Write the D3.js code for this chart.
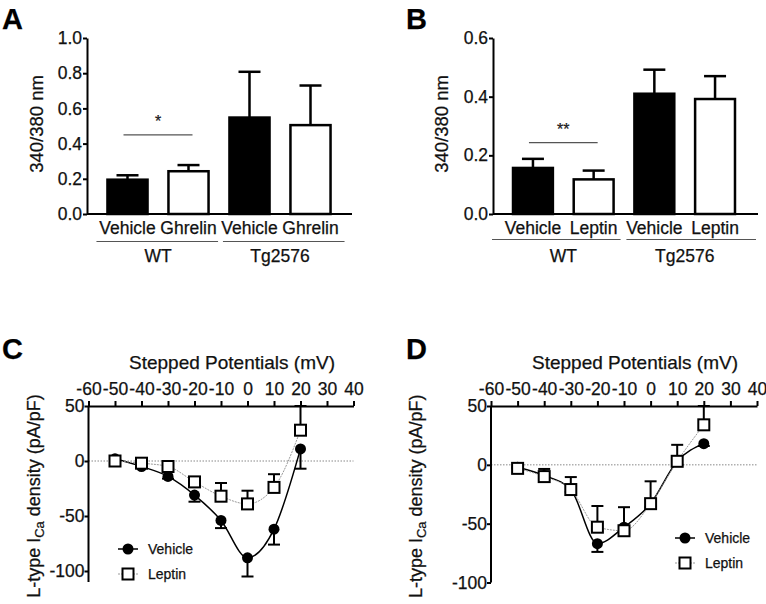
<!DOCTYPE html>
<html><head><meta charset="utf-8">
<script src="https://cdn.jsdelivr.net/npm/d3@7"></script>
<style>
body{margin:0;background:#fff;}
svg{display:block;font-family:"Liberation Sans",Arial,Helvetica,sans-serif;}
svg text{stroke:#111;stroke-width:0.25px;}
</style></head>
<body><svg id="c" width="766" height="604"></svg>
<script>
// ---------- data ----------
const barCatsA = ["Vehicle", "Ghrelin", "Vehicle ", "Ghrelin "];
const barLabelsA = ["Vehicle", "Ghrelin", "Vehicle", "Ghrelin"];
const barMeansA = [0.195, 0.243, 0.548, 0.505];
const barErrA = [0.025, 0.035, 0.26, 0.225];
const barFillA = ["black", "white", "black", "white"];
const ticksA = [0, 0.2, 0.4, 0.6, 0.8, 1.0];

const barCatsB = ["Vehicle", "Leptin", "Vehicle ", "Leptin "];
const barLabelsB = ["Vehicle", "Leptin", "Vehicle", "Leptin"];
const barMeansB = [0.157, 0.118, 0.41, 0.392];
const barErrB = [0.031, 0.03, 0.082, 0.078];
const barFillB = ["black", "white", "black", "white"];
const ticksB = [0, 0.2, 0.4, 0.6];

const groups = ["WT", "Tg2576"];
const sigA = {level: 0.45, label: "*"};
const sigB = {level: 0.243, label: "**"};

const potentials = [-50, -40, -30, -20, -10, 0, 10, 20];
const xTicks = [-60, -50, -40, -30, -20, -10, 0, 10, 20, 30, 40];

const vehC = [2, -5, -14, -31, -54, -88, -62, 11];
const vehCerr = [1, 1, 2, 6, 7, 17, 14, 18];
const lepC = [0, -2, -5, -19, -32, -39, -24, 28];
const lepCerr = [1, 1, 2, 3, 12, 12, 12, 22];
const yTicksC = [-100, -50, 0, 50];

const vehD = [-2, -9, -21, -67, -53, -33, 3, 18];
const vehDerr = [1, 1, 2, 7, 3, 3, 3, 2];
const lepD = [-3, -10, -21, -53, -56, -33, 3, 34];
const lepDerr = [1, 6.5, 10.6, 18, 20, 19, 14, 16];
const yTicksD = [-100, -50, 0, 50];

// ---------- drawing ----------
const svg = d3.select("#c");
const FS = 17.5;
const TXT = "#111";
const hyphenFmt = d => String(d);

function letter(t, x, y){
  svg.append("text").attr("x", x).attr("y", y).attr("font-size", 29)
    .attr("font-weight", "bold").text(t);
}

function styleAxis(g){
  g.attr("font-family", null).attr("font-size", null);
  g.selectAll("path,line").attr("stroke", "#000").attr("stroke-width", 2);
  g.selectAll("text").attr("font-size", FS).attr("fill", TXT);
}

function barPanel(o){
  const y = d3.scaleLinear().domain([0, o.ymax]).range([214, 38]);
  const x = d3.scaleBand().domain(o.cats).range(o.bandRange)
    .paddingInner(0.31).paddingOuter(0.155);
  const bw = x.bandwidth();
  svg.append("line").attr("x1", o.axisX0).attr("x2", o.axisX1)
    .attr("y1", y(0)).attr("y2", y(0)).attr("stroke", "#000").attr("stroke-width", 2);
  o.cats.forEach((c, i) => {
    const cx = x(c) + bw / 2;
    svg.append("line").attr("x1", cx).attr("x2", cx)
      .attr("y1", y(o.means[i])).attr("y2", y(o.means[i] + o.err[i]))
      .attr("stroke", "#000").attr("stroke-width", 2.5);
    svg.append("line").attr("x1", cx - 11).attr("x2", cx + 11)
      .attr("y1", y(o.means[i] + o.err[i])).attr("y2", y(o.means[i] + o.err[i]))
      .attr("stroke", "#000").attr("stroke-width", 2.5);
  });
  svg.selectAll(null).data(o.cats).enter().append("rect")
    .attr("x", c => x(c) + 1).attr("width", bw - 2)
    .attr("y", (c, i) => y(o.means[i])).attr("height", (c, i) => y(0) - y(o.means[i]))
    .attr("fill", (c, i) => o.fill[i]).attr("stroke", "#000").attr("stroke-width", 2.5);
  const ga = svg.append("g").attr("transform", `translate(${o.axisX0},0)`)
    .call(d3.axisLeft(y).tickValues(o.ticks).tickFormat(d3.format(".1f"))
      .tickSize(4).tickSizeOuter(0).tickPadding(1));
  styleAxis(ga);
  o.cats.forEach((c, i) => {
    svg.append("text").attr("x", x(c) + bw / 2).attr("y", 234)
      .attr("text-anchor", "middle").attr("font-size", FS).attr("fill", TXT).text(o.labels[i]);
  });
  groups.forEach((gname, gi) => {
    const c0 = o.cats[gi * 2], c1 = o.cats[gi * 2 + 1];
    const x0 = x(c0) + o.gpad[gi][0], x1 = x(c1) + bw + o.gpad[gi][1];
    svg.append("line").attr("x1", x0).attr("x2", x1).attr("y1", o.gy).attr("y2", o.gy)
      .attr("stroke", "#555").attr("stroke-width", 1.2);
    svg.append("text").attr("x", (x(c0) + x(c1) + bw) / 2).attr("y", 262)
      .attr("text-anchor", "middle").attr("font-size", FS).attr("fill", TXT).text(gname);
  });
  const sx0 = x(o.cats[0]) + bw / 2 - 4, sx1 = x(o.cats[1]) + bw / 2 + 4;
  svg.append("line").attr("x1", sx0).attr("x2", sx1)
    .attr("y1", y(o.sig.level)).attr("y2", y(o.sig.level))
    .attr("stroke", "#555").attr("stroke-width", 1.2);
  svg.append("text").attr("x", (sx0 + sx1) / 2).attr("y", y(o.sig.level) - 8)
    .attr("text-anchor", "middle").attr("font-size", 16).attr("fill", "#222").text(o.sig.label);
  svg.append("text").attr("transform", `translate(${o.titleX},124) rotate(-90)`)
    .attr("text-anchor", "middle").attr("font-size", 18.5).attr("fill", TXT).text("340/380 nm");
}

function linePanel(o){
  const x = d3.scaleLinear().domain([-60, 40]).range([o.x0, o.x1]);
  const y = d3.scaleLinear().domain(o.ydom).range([o.yBottom, 406]);
  svg.append("line").attr("x1", o.x0).attr("x2", o.x1).attr("y1", y(0)).attr("y2", y(0))
    .attr("stroke", "#888").attr("stroke-width", 1).attr("stroke-dasharray", "1.5,1.5");
  const gy = svg.append("g").attr("transform", `translate(${o.x0},0)`)
    .call(d3.axisLeft(y).tickValues(o.yTicks).tickFormat(hyphenFmt).tickSize(4).tickSizeOuter(0).tickPadding(0));
  styleAxis(gy);
  const gx = svg.append("g").attr("transform", `translate(0,${y(50)})`)
    .call(d3.axisTop(x).tickValues(xTicks).tickFormat(hyphenFmt).tickSize(5).tickSizeOuter(0).tickPadding(6));
  styleAxis(gx);
  gy.select(".domain").attr("d", `M0,${o.yBottom}V${y(50)}`);

  const line = d3.line().x((d, i) => x(potentials[i])).y(d => y(d)).curve(d3.curveMonotoneX);
  svg.append("path").attr("d", line(o.veh)).attr("fill", "none")
    .attr("stroke", "#000").attr("stroke-width", 1.5);
  svg.append("path").attr("d", line(o.lep)).attr("fill", "none")
    .attr("stroke", "#999").attr("stroke-width", 1).attr("stroke-dasharray", "2,1");
  function err(vals, errs, dir){
    vals.forEach((v, i) => {
      const cx = x(potentials[i]);
      const e = v + dir * errs[i];
      svg.append("line").attr("x1", cx).attr("x2", cx).attr("y1", y(v)).attr("y2", y(e))
        .attr("stroke", "#000").attr("stroke-width", 2);
      svg.append("line").attr("x1", cx - 6).attr("x2", cx + 6).attr("y1", y(e)).attr("y2", y(e))
        .attr("stroke", "#000").attr("stroke-width", 2);
    });
  }
  err(o.veh, o.vehErr, -1);
  err(o.lep, o.lepErr, 1);
  svg.selectAll(null).data(o.veh).enter().append("circle")
    .attr("cx", (d, i) => x(potentials[i])).attr("cy", d => y(d)).attr("r", 5.5).attr("fill", "#000");
  svg.selectAll(null).data(o.lep).enter().append("rect")
    .attr("x", (d, i) => x(potentials[i]) - 5.5).attr("y", d => y(d) - 5.5)
    .attr("width", 11).attr("height", 11).attr("fill", "#fff").attr("stroke", "#000").attr("stroke-width", 2);
  svg.append("text").attr("x", (o.x0 + o.x1) / 2 + 11).attr("y", 369).attr("text-anchor", "middle")
    .attr("font-size", 19).attr("fill", TXT).text("Stepped Potentials (mV)");
  const yt = svg.append("text").attr("transform", `translate(${o.titleX},${(o.yBottom + 406) / 2 + 2}) rotate(-90)`)
    .attr("text-anchor", "middle").attr("font-size", 18).attr("fill", TXT);
  yt.append("tspan").text("L-type I");
  yt.append("tspan").attr("font-size", 13).attr("dy", 4).text("Ca");
  yt.append("tspan").attr("dy", -4).text(" density (pA/pF)");
  const L = o.legend;
  svg.append("line").attr("x1", L.x - 10).attr("x2", L.x + 10).attr("y1", L.y).attr("y2", L.y)
    .attr("stroke", "#000").attr("stroke-width", 1.5);
  svg.append("circle").attr("cx", L.x).attr("cy", L.y).attr("r", 5.5).attr("fill", "#000");
  svg.append("line").attr("x1", L.x - 10).attr("x2", L.x + 10).attr("y1", L.y + 25).attr("y2", L.y + 25)
    .attr("stroke", "#999").attr("stroke-width", 1).attr("stroke-dasharray", "2,1");
  svg.append("rect").attr("x", L.x - 5.5).attr("y", L.y + 25 - 5.5).attr("width", 11).attr("height", 11)
    .attr("fill", "#fff").attr("stroke", "#000").attr("stroke-width", 2);
  svg.append("text").attr("x", L.x + 20).attr("y", L.y + 5).attr("font-size", 14).attr("fill", TXT).text("Vehicle");
  svg.append("text").attr("x", L.x + 20).attr("y", L.y + 30).attr("font-size", 14).attr("fill", TXT).text("Leptin");
}

letter("A", 2, 29);
letter("B", 406, 29);
letter("C", 2, 359);
letter("D", 406, 359);

barPanel({cats: barCatsA, labels: barLabelsA, means: barMeansA, err: barErrA, fill: barFillA,
  ticks: ticksA, ymax: 1.0, bandRange: [97, 341], axisX0: 87, axisX1: 352, gy: 241.5,
  gpad: [[-10, 8.5], [-5.5, 13]], sig: sigA, titleX: 43});
barPanel({cats: barCatsB, labels: barLabelsB, means: barMeansB, err: barErrB, fill: barFillB,
  ticks: ticksB, ymax: 0.6, bandRange: [502.6, 745.4], axisX0: 493, axisX1: 758, gy: 239.5,
  gpad: [[-20, 6], [-7, 20]], sig: sigB, titleX: 448});

linePanel({x0: 88.5, x1: 353.5, ydom: [-110, 50], yBottom: 582, yTicks: yTicksC,
  veh: vehC, vehErr: vehCerr, lep: lepC, lepErr: lepCerr, titleX: 40, legend: {x: 128, y: 549}});
linePanel({x0: 491, x1: 757, ydom: [-100, 50], yBottom: 582.5, yTicks: yTicksD,
  veh: vehD, vehErr: vehDerr, lep: lepD, lepErr: lepDerr, titleX: 422, legend: {x: 685, y: 538}});
</script></body></html>
